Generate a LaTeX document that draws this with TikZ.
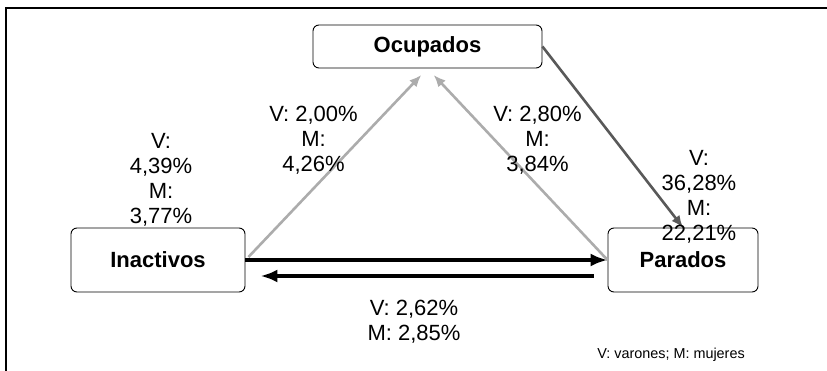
\documentclass[tikz,border=0pt]{standalone}
\usepackage{fontspec}
\setmainfont{Liberation Sans}
\usetikzlibrary{arrows.meta}

\begin{document}
\begin{tikzpicture}[x=1pt, y=-1pt, thick]
\tikzstyle{state}=[rectangle,draw,rounded corners=6pt,line width=0.9pt,inner sep=0pt,font=\fontsize{22}{25}\selectfont\bfseries]
\tikzstyle{rate}=[align=center,inner sep=0pt,font=\fontsize{22}{25}\selectfont]
\tikzstyle{flow}=[line width=4pt,-{Latex[length=17pt,width=13pt]}]
\tikzstyle{weak}=[line width=2.6pt,gray!65,-{Latex[length=12pt,width=10pt]},shorten >=9pt]

\useasboundingbox (0,0) rectangle (827,371);
\draw[line width=1.6pt] (827,8) -- (6,8) -- (6,371);

\node[state,minimum width=229pt,minimum height=43pt] (ocup) at (427.5,46.5) {Ocupados};
\node[state,minimum width=174pt,minimum height=64pt] (inact) at (158,260) {Inactivos};
\node[state,minimum width=150pt,minimum height=64pt] (parad) at (683,260) {Parados};

\draw[flow] (inact.east) -- (parad.west);
\draw[flow] ([xshift=-14pt,yshift=-16pt]parad.west) -- ([xshift=15pt,yshift=-16pt]inact.east);
\draw[weak] ([xshift=3pt,yshift=3pt]inact.east) -- (ocup.south);
\draw[weak] (parad.west) -- (ocup.south);
\draw[line width=2.6pt,black!65,-{Latex[length=12pt,width=10pt]}] (ocup.east) -- (parad.north);

\node[rate] (l_inact) at (161,180) {V:\\4,39\%\\M:\\3,77\%};
\node[rate] (l_io) at (313.5,140) {V: 2,00\%\\M:\\4,26\%};
\node[rate] (l_po) at (537.5,140) {V: 2,80\%\\M:\\3,84\%};
\node[rate] (l_op) at (699,197) {V:\\36,28\%\\M:\\22,21\%};
\node[rate] (l_ip) at (414,322) {V: 2,62\%\\M: 2,85\%};
\node[inner sep=0pt,font=\fontsize{14.4}{16}\selectfont] (legend) at (671,355) {V: varones; M: mujeres};
\end{tikzpicture}
\end{document}
